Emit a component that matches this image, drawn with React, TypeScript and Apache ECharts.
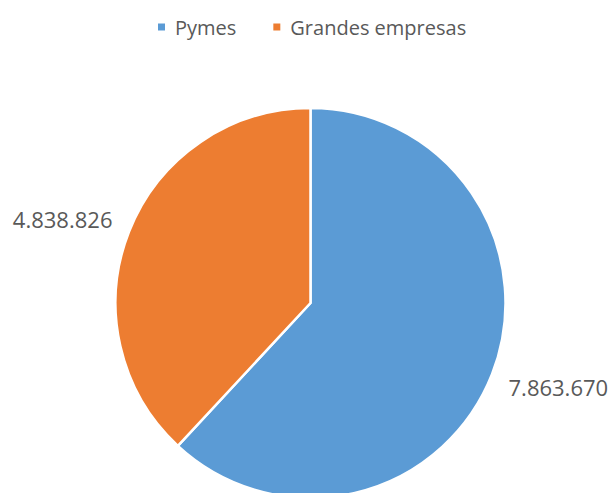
import React, { useEffect, useRef } from "react";
import * as echarts from "echarts";

const categories = ["Pymes", "Grandes empresas"];
const values = [7863670, 4838826];
const colors = ["#5B9BD5", "#ED7D31"];

const fmt = (v: number) => String(v).replace(/\B(?=(\d{3})+(?!\d))/g, ".");

export default function App() {
  const ref = useRef<HTMLDivElement>(null);
  useEffect(() => {
    if (!ref.current) return;
    const chart = echarts.init(ref.current, undefined, { renderer: "svg" });
    chart.setOption({
      animation: false,
      backgroundColor: "#ffffff",
      color: colors,
      legend: {
        top: 12,
        left: 153,
        itemGap: 37,
        itemWidth: 7,
        itemHeight: 7,
        icon: "rect",
        itemStyle: { borderWidth: 0 },
        data: categories,
        textStyle: {
          fontFamily: "Open Sans",
          fontSize: 20,
          color: "#595959",
          padding: [0, 0, 0, 5],
        },
      },
      series: [
        {
          type: "pie",
          left: -40,
          right: -40,
          top: 0,
          bottom: 0,
          center: [350.5, 303],
          radius: 195,
          startAngle: 90,
          clockwise: true,
          avoidLabelOverlap: false,
          itemStyle: { borderColor: "#ffffff", borderWidth: 2.5 },
          label: {
            show: true,
            position: "outside",
            formatter: (p: any) => fmt(p.value),
            fontFamily: "Open Sans",
            fontSize: 22,
            color: "#595959",
            bleedMargin: 0,
          },
          labelLine: { show: false, length: 36, length2: -22 },
          emphasis: { disabled: true },
          data: categories.map((name, i) => ({ name, value: values[i] })),
        },
      ],
    });
    return () => chart.dispose();
  }, []);
  return (
    <div
      ref={ref}
      style={{ position: "fixed", left: 0, top: 0, width: 609, height: 493 }}
    />
  );
}
